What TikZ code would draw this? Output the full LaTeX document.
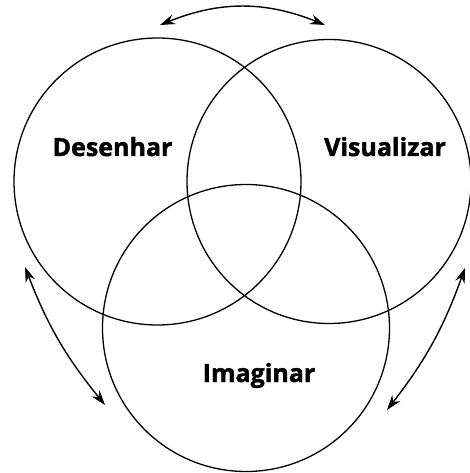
\documentclass[tikz,border=0pt]{standalone}
\usepackage{fontspec}
\setmainfont{Open Sans}[BoldFont={Open Sans Bold},BoldFeatures={FakeBold=1.6}]
\usetikzlibrary{arrows.meta}
\begin{document}
\begin{tikzpicture}[x=1pt,y=-1pt]
\tikzset{
  ring/.style={circle, draw=black, line width=1.3pt, inner sep=0pt, minimum size=#1},
  lbl/.style={font=\fontsize{25}{30}\selectfont\bfseries, anchor=base, inner sep=0pt},
  dblarrow/.style={line width=1.4pt, arrows={Stealth[length=15pt,width=10pt]-Stealth[length=15pt,width=10pt]}}}
\useasboundingbox (0,0) rectangle (470,473);
\node[ring=287pt] (L) at (157.5,181.5) {};
\node[ring=284pt] (R) at (329,181.5) {};
\node[ring=287pt] (B) at (246,328) {};
\node[lbl] (tL) at (112.5,156) {Desenhar};
\node[lbl] (tR) at (385,156) {Visualizar};
\node[lbl] (tB) at (259,382) {Imaginar};
\coordinate (a1) at (160,25);
\coordinate (a2) at (325,25);
\coordinate (b1) at (25,267);
\coordinate (b2) at (105,405);
\coordinate (c1) at (465,268);
\coordinate (c2) at (387,410);
\draw[dblarrow] (a1) to[bend left=22] (a2);
\draw[dblarrow] (b1) to[bend right=9] (b2);
\draw[dblarrow] (c1) to[bend left=9] (c2);
\end{tikzpicture}
\end{document}
